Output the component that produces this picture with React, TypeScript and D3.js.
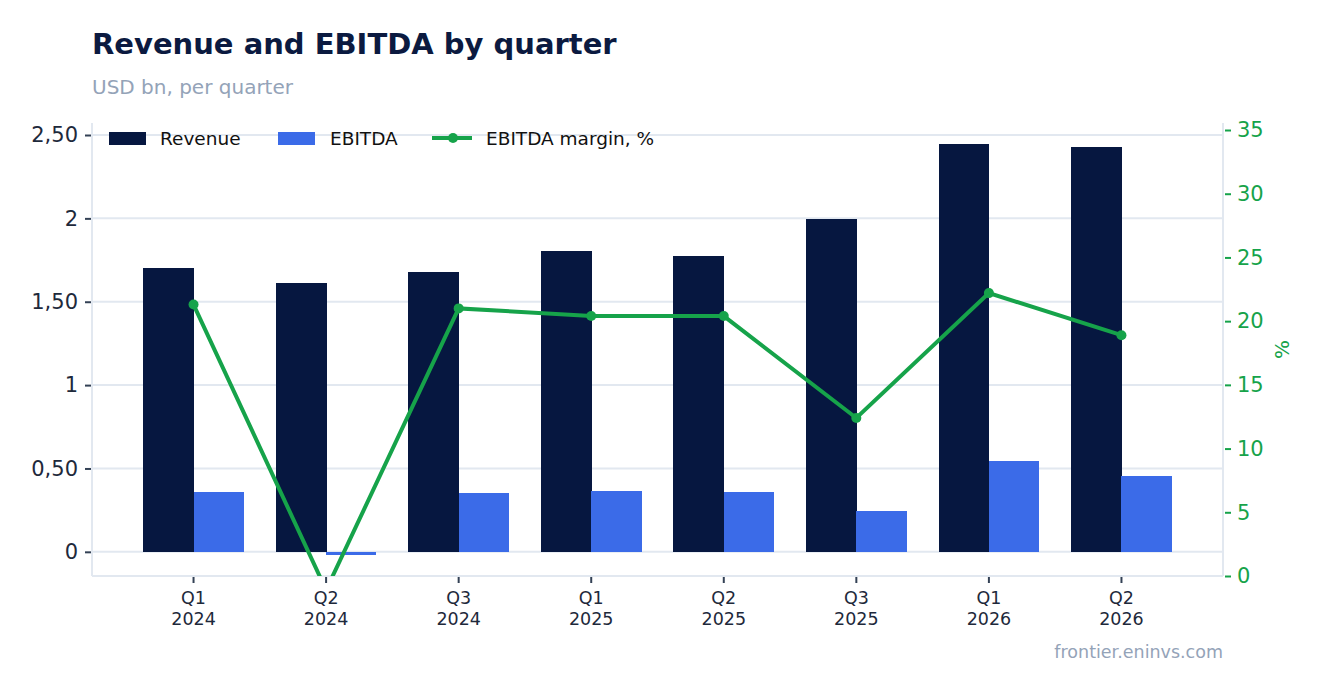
import React, {useEffect, useRef} from 'react';
import * as d3 from 'd3';

// quarters on the x axis (two-line labels)
const quarters = ['Q1 2024', 'Q2 2024', 'Q3 2024', 'Q1 2025', 'Q2 2025', 'Q3 2025', 'Q1 2026', 'Q2 2026'];
// USD bn per quarter
const revenue = [1.70, 1.61, 1.68, 1.805, 1.775, 1.995, 2.445, 2.43];
const ebitda = [0.36, -0.02, 0.355, 0.365, 0.36, 0.245, 0.545, 0.455];
// EBITDA margin, %
const margin = [21.3, -1.1, 21.0, 20.4, 20.4, 12.4, 22.2, 18.9];
const leftTicks = [0, 0.5, 1, 1.5, 2, 2.5];
const rightTicks = [0, 5, 10, 15, 20, 25, 30, 35];

const NAVY = '#061740';
const BLUE = '#3b6be8';
const GREEN = '#16a34a';
const GRID = '#e2e8f0';
const FONT = 'DejaVu Sans, sans-serif';

const App: React.FC = () => {
  const svgRef = useRef<SVGSVGElement>(null);

  useEffect(() => {
    const svg = d3.select(svgRef.current);
    svg.selectAll('*').remove();

    const W = 1323;
    const H = 693;
    const box = {left: 92, right: 1223, top: 123, bottom: 576};

    // scales
    const x0 = d3
      .scaleBand()
      .domain(quarters)
      .range([box.left, box.right])
      .paddingInner(0.24)
      .paddingOuter(0.386);
    const x1 = d3.scaleBand().domain(['rev', 'ebitda']).range([0, x0.bandwidth()]);
    const y = d3.scaleLinear().domain([-0.145, 2.572]).range([box.bottom, box.top]);
    const y2 = d3.scaleLinear().domain([0, 35.55]).range([box.bottom, box.top]);

    const fmtLeft = (d: number) =>
      Number.isInteger(d) ? String(d) : d.toFixed(2).replace('.', ',');

    svg.append('rect').attr('width', W).attr('height', H).attr('fill', '#fff');

    // title
    svg
      .append('text')
      .attr('x', 92)
      .attr('y', 54)
      .attr('font-family', FONT)
      .attr('font-size', 29)
      .attr('font-weight', 'bold')
      .attr('fill', '#0b1a40')
      .text('Revenue and EBITDA by quarter');
    svg
      .append('text')
      .attr('x', 92)
      .attr('y', 94)
      .attr('font-family', FONT)
      .attr('font-size', 20)
      .attr('fill', '#94a3b8')
      .text('USD bn, per quarter');

    // gridlines
    svg
      .append('g')
      .selectAll('line')
      .data(leftTicks)
      .enter()
      .append('line')
      .attr('x1', box.left)
      .attr('x2', box.right)
      .attr('y1', (d) => y(d))
      .attr('y2', (d) => y(d))
      .attr('stroke', GRID)
      .attr('stroke-width', 2);

    // frame lines (left, bottom, right)
    const frame = svg.append('g').attr('stroke', GRID).attr('stroke-width', 2);
    frame.append('line').attr('x1', box.left).attr('x2', box.left).attr('y1', box.top).attr('y2', box.bottom);
    frame.append('line').attr('x1', box.right).attr('x2', box.right).attr('y1', box.top).attr('y2', box.bottom);
    frame.append('line').attr('x1', box.left).attr('x2', box.right).attr('y1', box.bottom).attr('y2', box.bottom);

    // bars
    const groups = svg
      .append('g')
      .attr('shape-rendering', 'crispEdges')
      .selectAll('g')
      .data(quarters)
      .enter()
      .append('g')
      .attr('transform', (d) => `translate(${x0(d)},0)`);
    groups
      .append('rect')
      .attr('x', x1('rev'))
      .attr('width', x1.bandwidth() + 0.5)
      .attr('y', (d, i) => y(Math.max(0, revenue[i])))
      .attr('height', (d, i) => Math.abs(y(revenue[i]) - y(0)))
      .attr('fill', NAVY);
    groups
      .append('rect')
      .attr('x', x1('ebitda'))
      .attr('width', x1.bandwidth())
      .attr('y', (d, i) => y(Math.max(0, ebitda[i])))
      .attr('height', (d, i) => Math.max(3, Math.abs(y(ebitda[i]) - y(0))))
      .attr('fill', BLUE);

    // margin line, clipped to the plot box
    svg
      .append('clipPath')
      .attr('id', 'plotclip')
      .append('rect')
      .attr('x', box.left)
      .attr('y', box.top)
      .attr('width', box.right - box.left)
      .attr('height', box.bottom - box.top);
    const cx = (q: string) => (x0(q) as number) + x0.bandwidth() / 2;
    const line = d3
      .line<number>()
      .x((d, i) => cx(quarters[i]))
      .y((d) => y2(d));
    const lg = svg.append('g').attr('clip-path', 'url(#plotclip)');
    lg.append('path')
      .datum(margin)
      .attr('d', line)
      .attr('fill', 'none')
      .attr('stroke', GREEN)
      .attr('stroke-width', 4);
    lg.selectAll('circle')
      .data(margin)
      .enter()
      .append('circle')
      .attr('cx', (d, i) => cx(quarters[i]))
      .attr('cy', (d) => y2(d))
      .attr('r', 5)
      .attr('fill', GREEN);

    // left axis
    const la = svg
      .append('g')
      .attr('transform', `translate(${box.left},0)`)
      .call(d3.axisLeft(y).tickValues(leftTicks).tickFormat((d: any) => fmtLeft(d)).tickSize(6).tickPadding(8));
    la.select('.domain').remove();
    la.selectAll('line').attr('stroke', '#334155').attr('stroke-width', 2).attr('transform', 'translate(-1,0)');
    la.selectAll('text').attr('font-family', FONT).attr('font-size', 21).attr('fill', '#1e293b');

    // right axis
    const ra = svg
      .append('g')
      .attr('transform', `translate(${box.right},0)`)
      .call(d3.axisRight(y2).tickValues(rightTicks).tickSize(6).tickPadding(8));
    ra.select('.domain').remove();
    ra.selectAll('line').attr('stroke', GREEN).attr('stroke-width', 2).attr('transform', 'translate(2,0)');
    ra.selectAll('text').attr('font-family', FONT).attr('font-size', 21).attr('fill', GREEN);
    svg
      .append('text')
      .attr('transform', `translate(1289,${(box.top + box.bottom) / 2}) rotate(-90)`)
      .attr('text-anchor', 'middle')
      .attr('font-family', FONT)
      .attr('font-size', 20)
      .attr('fill', GREEN)
      .text('%');

    // bottom axis
    const ba = svg
      .append('g')
      .attr('transform', `translate(0,${box.bottom})`)
      .call(d3.axisBottom(x0).tickSize(6).tickFormat(() => ''));
    ba.select('.domain').remove();
    ba.selectAll('line').attr('stroke', '#334155').attr('stroke-width', 2).attr('transform', 'translate(0,1)');
    ba.selectAll('.tick')
      .append('text')
      .attr('text-anchor', 'middle')
      .attr('font-family', FONT)
      .attr('font-size', 17.5)
      .attr('fill', '#1e293b')
      .each(function (d: any) {
        const [q, yr] = d.split(' ');
        const t = d3.select(this);
        t.append('tspan').attr('x', 0).attr('y', 28).text(q);
        t.append('tspan').attr('x', 0).attr('y', 49).text(yr);
      });

    // legend
    const leg = svg.append('g').attr('font-family', FONT).attr('font-size', 18.5).attr('fill', '#111');
    leg.append('rect').attr('x', 109).attr('y', 132).attr('width', 37).attr('height', 13).attr('fill', NAVY);
    leg.append('text').attr('x', 160).attr('y', 145).text('Revenue');
    leg.append('rect').attr('x', 278).attr('y', 132).attr('width', 37).attr('height', 13).attr('fill', BLUE);
    leg.append('text').attr('x', 330).attr('y', 145).text('EBITDA');
    leg.append('line').attr('x1', 432).attr('x2', 472).attr('y1', 138).attr('y2', 138).attr('stroke', GREEN).attr('stroke-width', 4);
    leg.append('circle').attr('cx', 453).attr('cy', 138).attr('r', 5).attr('fill', GREEN);
    leg.append('text').attr('x', 486).attr('y', 145).text('EBITDA margin, %');

    // footer
    svg
      .append('text')
      .attr('x', box.right)
      .attr('y', 658)
      .attr('text-anchor', 'end')
      .attr('font-family', FONT)
      .attr('font-size', 17.5)
      .attr('fill', '#94a3b8')
      .text('frontier.eninvs.com');
  }, []);

  return (
    <svg
      ref={svgRef}
      width={1323}
      height={693}
      style={{position: 'absolute', left: 0, top: 0, display: 'block'}}
    />
  );
};

export default App;
